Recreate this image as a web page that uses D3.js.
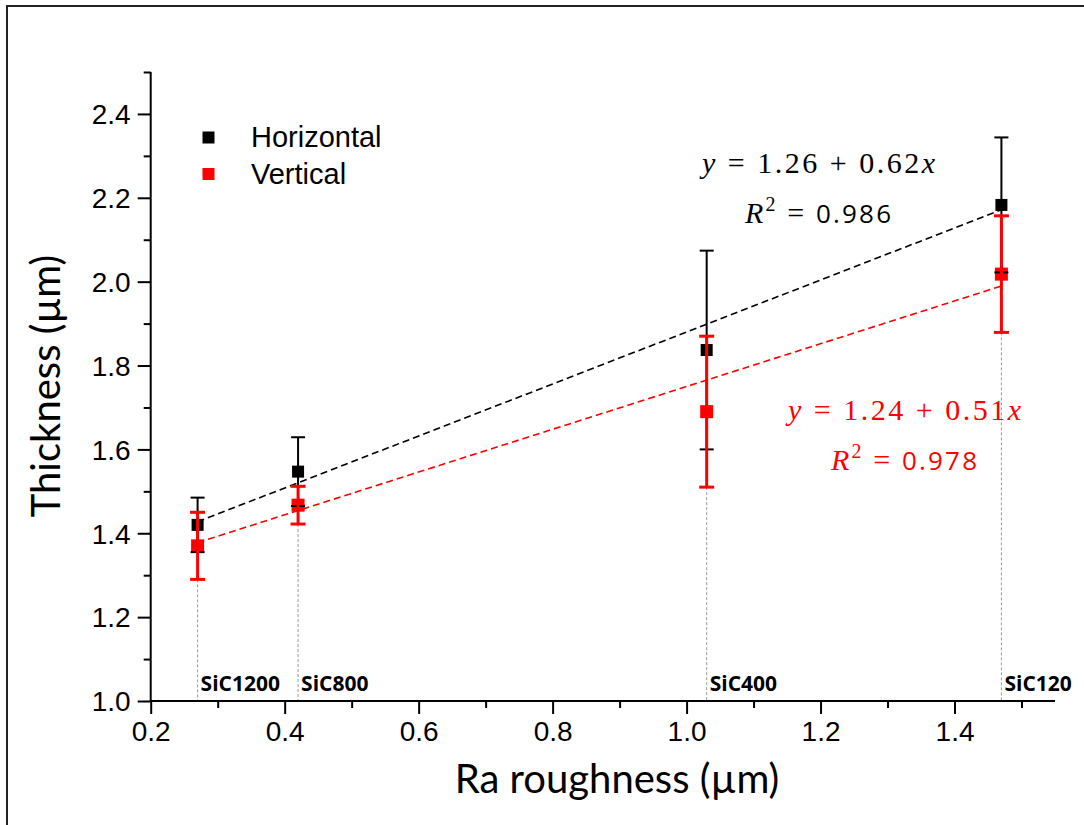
<!DOCTYPE html>
<html lang="en">
<head>
    <meta charset="UTF-8">
    <title>Thickness vs Ra roughness</title>
    <style>
        body {
            margin: 0;
            padding: 0;
            background-color: #fff;
        }
        svg {
            display: block;
        }
        .tick-label {
            font-family: 'Liberation Sans', Arial, sans-serif;
            font-size: 28px;
            fill: #000;
        }
        .axis-title {
            font-family: Lato, 'Open Sans', sans-serif;
            font-size: 40px;
            fill: #000;
        }
        .legend-text {
            font-family: 'Liberation Sans', Arial, sans-serif;
            font-size: 29px;
            fill: #000;
        }
        .sic-label {
            font-family: 'Open Sans', sans-serif;
            font-weight: bold;
            font-size: 21px;
            fill: #000;
        }
        .eq {
            font-family: 'Liberation Serif', 'DejaVu Serif', serif;
            font-size: 30px;
        }
    </style>
</head>
<body>
    <div id="chart"></div>

    <script src="https://d3js.org/d3.v7.min.js"></script>
    <script>
        // roughness (Ra, um) of each SiC grit and the grit names
        const roughness = [0.27, 0.42, 1.03, 1.47];
        const gritLabels = ["SiC1200", "SiC800", "SiC400", "SiC120"];

        // coating thickness (um) and standard deviation
        const horizontalThickness = [1.42, 1.547, 1.837, 2.183];
        const horizontalError = [0.065, 0.082, 0.237, 0.161];
        const verticalThickness = [1.37, 1.467, 1.69, 2.018];
        const verticalError = [0.08, 0.045, 0.18, 0.139];

        // linear fits: [intercept, slope, R2]
        const horizontalFit = [1.26, 0.62, 0.986];
        const verticalFit = [1.24, 0.51, 0.978];

        const xTicks = [0.2, 0.4, 0.6, 0.8, 1.0, 1.2, 1.4];
        const xMinorTicks = [0.3, 0.5, 0.7, 0.9, 1.1, 1.3, 1.5];
        const yTicks = [1.0, 1.2, 1.4, 1.6, 1.8, 2.0, 2.2, 2.4];
        const yMinorTicks = [1.1, 1.3, 1.5, 1.7, 1.9, 2.1, 2.3, 2.5];

        const W = 1084, H = 825;
        const plot = { left: 150.7, right: 1055, top: 72, bottom: 701 };

        const svg = d3.select("#chart").append("svg")
            .attr("width", W)
            .attr("height", H);

        // outer frame (only the left and top edges are in view)
        svg.append("rect")
            .attr("x", 7).attr("y", 6)
            .attr("width", 1200).attr("height", 1000)
            .attr("fill", "none")
            .attr("stroke", "#222")
            .attr("stroke-width", 2);

        const x = d3.scaleLinear().domain([0.2, 1.55]).range([plot.left, plot.right]);
        const y = d3.scaleLinear().domain([1.0, 2.5]).range([plot.bottom, plot.top]);

        // grey drop lines from each point down to the x axis
        const lowest = roughness.map((r, i) => Math.min(
            horizontalThickness[i] - horizontalError[i],
            verticalThickness[i] - verticalError[i]));
        svg.append("g").selectAll("line")
            .data(roughness)
            .enter().append("line")
            .attr("x1", d => x(d)).attr("x2", d => x(d))
            .attr("y1", (d, i) => y(lowest[i]))
            .attr("y2", y(1.0))
            .attr("stroke", "#9a9a9a")
            .attr("stroke-width", 1)
            .attr("stroke-dasharray", "3,2");

        svg.append("g").selectAll("text")
            .data(roughness)
            .enter().append("text")
            .attr("class", "sic-label")
            .attr("x", d => x(d) + 3)
            .attr("y", 691)
            .text((d, i) => gritLabels[i]);

        // axes
        const xAxis = svg.append("g")
            .attr("transform", `translate(0,${plot.bottom})`)
            .call(d3.axisBottom(x).tickValues(xTicks).tickSize(13).tickFormat(d3.format(".1f")));
        xAxis.append("g")
            .call(d3.axisBottom(x).tickValues(xMinorTicks).tickSize(7).tickFormat(""));

        const yAxis = svg.append("g")
            .attr("transform", `translate(${plot.left},0)`)
            .call(d3.axisLeft(y).tickValues(yTicks).tickSize(13).tickFormat(d3.format(".1f")));
        yAxis.append("g")
            .call(d3.axisLeft(y).tickValues(yMinorTicks).tickSize(7).tickFormat(""));

        svg.selectAll(".domain")
            .attr("stroke", "#000")
            .attr("stroke-width", 2);
        svg.selectAll(".tick line")
            .attr("stroke", "#000")
            .attr("stroke-width", 2);
        // plain axis lines, no end ticks
        xAxis.select(".domain").attr("d", `M${plot.left},0H${plot.right}`);
        yAxis.select(".domain").attr("d", `M0,${plot.bottom}V${plot.top}`);
        xAxis.selectAll("g").selectAll(".domain").remove();
        yAxis.selectAll("g").selectAll(".domain").remove();

        xAxis.selectAll(".tick text")
            .attr("class", "tick-label")
            .attr("y", 20)
            .attr("dy", "0.71em");
        yAxis.selectAll(".tick text")
            .attr("class", "tick-label")
            .attr("x", -20)
            .attr("dy", "0.35em");
        svg.selectAll(".tick text").attr("fill", null);
        xAxis.attr("font-size", null).attr("font-family", null);
        yAxis.attr("font-size", null).attr("font-family", null);

        svg.append("text")
            .attr("class", "axis-title")
            .attr("x", 617)
            .attr("y", 793)
            .attr("text-anchor", "middle")
            .text("Ra roughness (µm)");

        svg.append("text")
            .attr("class", "axis-title")
            .attr("transform", `translate(60,386) rotate(-90)`)
            .attr("text-anchor", "middle")
            .text("Thickness (µm)");

        // fitted dashed lines over the measured range
        const xFitRange = d3.extent(roughness);
        function drawFit(fit, color) {
            svg.append("line")
                .attr("x1", x(xFitRange[0])).attr("y1", y(fit[0] + fit[1] * xFitRange[0]))
                .attr("x2", x(xFitRange[1])).attr("y2", y(fit[0] + fit[1] * xFitRange[1]))
                .attr("stroke", color)
                .attr("stroke-width", 1.6)
                .attr("stroke-dasharray", "7,4");
        }
        drawFit(horizontalFit, "#000");
        drawFit(verticalFit, "#ff0000");

        // markers
        function drawSquares(values, color, size) {
            svg.append("g").selectAll("rect")
                .data(values)
                .enter().append("rect")
                .attr("x", (d, i) => x(roughness[i]) - size / 2)
                .attr("y", d => y(d) - size / 2)
                .attr("width", size).attr("height", size)
                .attr("fill", color);
        }
        drawSquares(horizontalThickness, "#000", 12);
        drawSquares(verticalThickness, "#ff0000", 13);

        // error bars
        function drawErrors(values, errors, color, width, cap) {
            const g = svg.append("g")
                .attr("stroke", color)
                .attr("stroke-width", width);
            values.forEach((v, i) => {
                const cx = x(roughness[i]);
                const top = y(v + errors[i]);
                const bot = y(v - errors[i]);
                g.append("line").attr("x1", cx).attr("x2", cx).attr("y1", top).attr("y2", bot);
                g.append("line").attr("x1", cx - cap / 2).attr("x2", cx + cap / 2).attr("y1", top).attr("y2", top);
                g.append("line").attr("x1", cx - cap / 2).attr("x2", cx + cap / 2).attr("y1", bot).attr("y2", bot);
            });
        }
        drawErrors(horizontalThickness, horizontalError, "#000", 2, 14);
        drawErrors(verticalThickness, verticalError, "#ff0000", 3, 15);

        // legend
        const legend = [
            { name: "Horizontal", color: "#000", cy: 137.5, base: 147 },
            { name: "Vertical", color: "#ff0000", cy: 174, base: 184 }
        ];
        legend.forEach(l => {
            svg.append("rect")
                .attr("x", 202.5).attr("y", l.cy - 6)
                .attr("width", 12).attr("height", 12)
                .attr("fill", l.color);
            svg.append("text")
                .attr("class", "legend-text")
                .attr("x", 251).attr("y", l.base)
                .text(l.name);
        });

        // fit equations
        function drawEquation(fit, color, x0, base1, x1, base2) {
            const eq = svg.append("text")
                .attr("class", "eq")
                .attr("x", x0).attr("y", base1)
                .attr("fill", color)
                .attr("textLength", 233)
                .attr("lengthAdjust", "spacing");
            eq.append("tspan").attr("font-style", "italic").text("y");
            eq.append("tspan").text(` = ${fit[0].toFixed(2)} + ${fit[1].toFixed(2)}`);
            eq.append("tspan").attr("font-style", "italic").text("x");

            const r2 = svg.append("text")
                .attr("class", "eq")
                .attr("x", x1).attr("y", base2)
                .attr("fill", color)
                .attr("textLength", 146)
                .attr("lengthAdjust", "spacing");
            r2.append("tspan").attr("font-style", "italic").text("R");
            r2.append("tspan").attr("dy", -12).attr("font-size", 20).text("2");
            r2.append("tspan").attr("dy", 12).text(" = ");
            r2.append("tspan")
                .attr("font-family", "'Open Sans', sans-serif")
                .attr("font-size", 26)
                .text(fit[2].toFixed(3));
        }
        drawEquation(horizontalFit, "#000", 702, 173, 745, 223);
        drawEquation(verticalFit, "#ff0000", 788, 420, 831, 470);
    </script>
</body>
</html>
